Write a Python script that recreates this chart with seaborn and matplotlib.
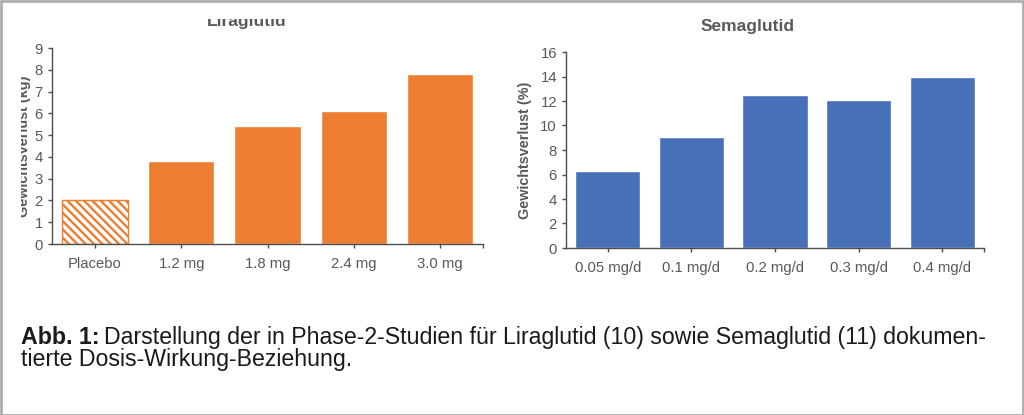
import matplotlib.pyplot as plt
import seaborn as sns
import pandas as pd
from matplotlib.patches import Rectangle
from matplotlib.transforms import Bbox, TransformedBbox

# Daten
lira_dosen = ["Placebo", "1.2 mg", "1.8 mg", "2.4 mg", "3.0 mg"]
lira_verlust = [2.0, 3.8, 5.4, 6.1, 7.8]
sema_dosen = ["0.05 mg/d", "0.1 mg/d", "0.2 mg/d", "0.3 mg/d", "0.4 mg/d"]
sema_verlust = [6.3, 9.05, 12.5, 12.1, 14.0]

caption_fett = "Abb. 1:"
caption_zeile1 = ("Darstellung der in Phase-2-Studien für Liraglutid (10) "
                  "sowie Semaglutid (11) dokumen-")
caption_zeile2 = "tierte Dosis-Wirkung-Beziehung."

ORANGE = "#ED7D31"
BLAU = "#4870B8"
GRAU = "#595959"
ACHSE = "#4d4d4d"

sns.set_style("ticks")
plt.rcParams["font.family"] = ["Liberation Sans", "DejaVu Sans"]
plt.rcParams["hatch.linewidth"] = 1.7

W, H = 1024, 415
fig = plt.figure(figsize=(W / 100, H / 100), dpi=100)
fig.patch.set_facecolor("white")


def px_box(x0, y0, x1, y1):
    # Pixelrechteck (von oben gezaehlt) -> Bbox in Figurkoordinaten
    return TransformedBbox(
        Bbox([[x0 / W, 1 - y1 / H], [x1 / W, 1 - y0 / H]]), fig.transFigure
    )


def achse_stylen(ax, ymax, step, ylabel, label_x):
    ax.set_xlim(-0.5, 4.5)
    ax.set_ylim(0, ymax)
    ax.set_yticks(range(0, ymax + 1, step))
    ax.set_xticks([4.5], minor=True)
    sns.despine(ax=ax)
    for s in ["left", "bottom"]:
        ax.spines[s].set_color(ACHSE)
        ax.spines[s].set_linewidth(1.0)
    ax.tick_params(axis="both", which="both", colors=ACHSE, labelcolor=GRAU,
                   labelsize=10.7, width=1.0, length=3)
    ax.tick_params(axis="x", pad=6.5)
    ax.tick_params(axis="y", pad=3.5)
    ax.set_xlabel("")
    ax.set_ylabel(ylabel, fontsize=10.4, fontweight="bold", color=GRAU)
    ax.yaxis.set_label_coords(label_x, 0.5)


# Liraglutid
ax1 = fig.add_axes([52 / W, 1 - 244 / H, 431 / W, 196 / H])
df_lira = pd.DataFrame({"dosis": lira_dosen, "verlust": lira_verlust})
sns.barplot(data=df_lira, x="dosis", y="verlust", color=ORANGE,
            saturation=1, width=0.77, ax=ax1)
placebo = ax1.patches[0]
placebo.set_facecolor("white")
placebo.set_edgecolor(ORANGE)
placebo.set_linewidth(1.0)
placebo.set_hatch("\\\\\\\\")
achse_stylen(ax1, 9, 1, "Gewichtsverlust (kg)", -0.049)
ax1.yaxis.label.set_clip_on(True)
ax1.yaxis.label.set_clip_box(px_box(21, 0, W, H))

# Semaglutid
ax2 = fig.add_axes([566 / W, 1 - 248 / H, 418 / W, 196 / H])
df_sema = pd.DataFrame({"dosis": sema_dosen, "verlust": sema_verlust})
sns.barplot(data=df_sema, x="dosis", y="verlust", color=BLAU,
            saturation=1, width=0.78, ax=ax2)
achse_stylen(ax2, 16, 2, "Gewichtsverlust (%)", -0.081)

# Titel (Liraglutid oben abgeschnitten wie in der Vorlage)
t1 = fig.text(246.5 / W, 1 - 26 / H, "Liraglutid", ha="center", va="baseline",
              fontsize=12.5, fontweight="bold", color=GRAU)
t1.set_clip_on(True)
t1.set_clip_box(px_box(0, 19, W, H))
fig.text(748 / W, 1 - 31 / H, "Semaglutid", ha="center", va="baseline",
         fontsize=12.5, fontweight="bold", color=GRAU)

# Bildunterschrift, Breite an Vorlage angepasst
links, rechts = 21, 986
groesse = 15.5
fig.canvas.draw()
r = fig.canvas.get_renderer()
for _ in range(3):
    for t in list(fig.texts):
        if getattr(t, "_caption", False):
            t.remove()
    tf = fig.text(links / W, 1 - 344 / H, caption_fett, fontsize=groesse,
                  fontweight="bold", color="#1a1a1a", va="baseline")
    tf._caption = True
    bb = tf.get_window_extent(r)
    tr = fig.text((bb.x1 + groesse * 0.3) / W, 1 - 344 / H, caption_zeile1,
                  fontsize=groesse, color="#1a1a1a", va="baseline")
    tr._caption = True
    t2 = fig.text(links / W, 1 - 366 / H, caption_zeile2, fontsize=groesse,
                  color="#1a1a1a", va="baseline")
    t2._caption = True
    ende = tr.get_window_extent(r).x1
    groesse *= (rechts - links) / (ende - links)

# Rahmen
fig.add_artist(Rectangle((0.5 / W, 0.5 / H), 1 - 1.5 / W, 1 - 1.5 / H,
                         transform=fig.transFigure, fill=False,
                         edgecolor="#adadad", linewidth=2.0))

fig.savefig("out.png", dpi=100, facecolor="white")
